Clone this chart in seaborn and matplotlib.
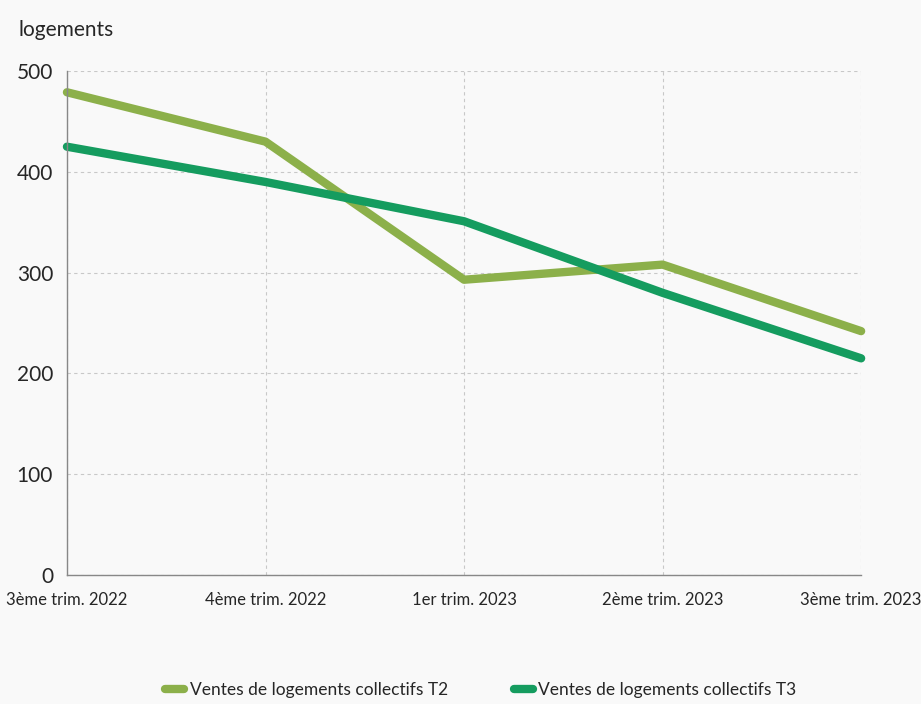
import matplotlib
matplotlib.use("Agg")
import matplotlib.pyplot as plt
import seaborn as sns
import pandas as pd
from matplotlib.ticker import MultipleLocator
from matplotlib.lines import Line2D

categories = ["3ème trim. 2022", "4ème trim. 2022", "1er trim. 2023", "2ème trim. 2023", "3ème trim. 2023"]
t2_values = [479, 430, 293, 308, 242]
t3_values = [425, 390, 351, 280, 215]
series_names = ["Ventes de logements collectifs T2", "Ventes de logements collectifs T3"]
colors = ["#8cb04a", "#159c5f"]

df = pd.DataFrame({
    "pos": list(range(len(categories))) * 2,
    "value": t2_values + t3_values,
    "serie": [series_names[0]] * len(categories) + [series_names[1]] * len(categories),
})

sns.set_theme(style="white")
plt.rcParams["font.family"] = ["Lato", "DejaVu Sans"]

bg = "#f9f9f9"
fig = plt.figure(figsize=(9.21, 7.04), dpi=100, facecolor=bg)
ax = fig.add_axes([0.0727, 0.1832, 0.8623, 0.7158])
ax.set_facecolor(bg)

sns.lineplot(data=df, x="pos", y="value", hue="serie", palette=colors,
             linewidth=6, ax=ax, legend=False, sort=False)
for ln in ax.lines:
    ln.set_solid_capstyle("round")
    ln.set_solid_joinstyle("round")
    ln.set_clip_on(False)

ax.set_xlim(0, len(categories) - 1)
ax.set_ylim(0, 500)
ax.set_xticks(range(len(categories)))
ax.set_xticklabels(categories, fontsize=12)
ax.yaxis.set_major_locator(MultipleLocator(100))
ax.yaxis.set_minor_locator(MultipleLocator(50))
ax.tick_params(axis="y", which="major", labelsize=15, direction="in", length=4, color="#888888", pad=10)
ax.tick_params(axis="y", which="minor", direction="in", length=4, color="#888888")
ax.tick_params(axis="x", direction="out", length=4, color="#888888", pad=8)
ax.set_xlabel("")
ax.set_ylabel("")
ax.grid(True, which="major", linestyle=(0, (3, 3)), color="#c8c8c8", linewidth=0.8)
ax.set_axisbelow(True)
for s in ["top", "right"]:
    ax.spines[s].set_visible(False)
for s in ["left", "bottom"]:
    ax.spines[s].set_color("#888888")
    ax.spines[s].set_linewidth(1)

fig.text(18 / 921, 1 - 30 / 704, "logements", fontsize=15, va="center", ha="left")

handles = [Line2D([0], [0], color=c, linewidth=6, solid_capstyle="round") for c in colors]
leg = fig.legend(handles, series_names, loc="center", bbox_to_anchor=(0.522, 1 - 690 / 704),
                 ncol=2, frameon=False, fontsize=12.5, handlelength=1.1, columnspacing=3.8,
                 handletextpad=0.3)

fig.savefig("out.png", dpi=100, facecolor=bg)
